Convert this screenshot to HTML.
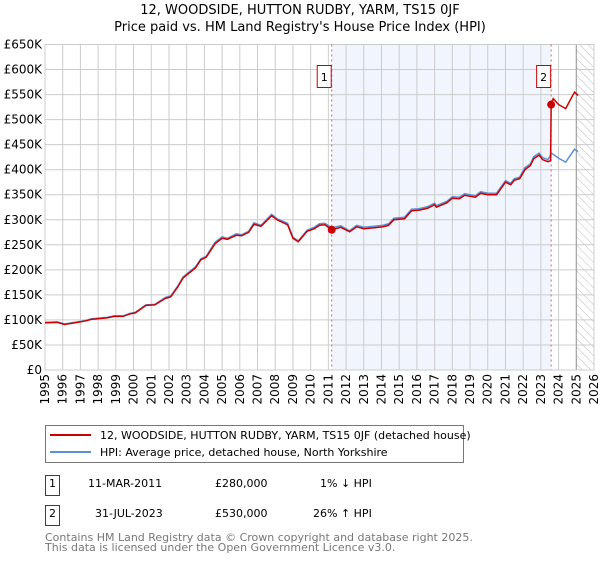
<!DOCTYPE html>
<html><head><meta charset="utf-8"><style>
body{margin:0;background:#fff;font-family:"Liberation Sans","DejaVu Sans",sans-serif}
svg text{font-family:"DejaVu Sans","Liberation Sans",sans-serif}
</style></head><body>
<svg id="c" width="600" height="560" viewBox="0 0 600 560">
<defs><pattern id="hatch" width="6" height="6" patternUnits="userSpaceOnUse" patternTransform="rotate(-45)"><line x1="0" y1="0" x2="0" y2="6" stroke="#bbb" stroke-width="1"/></pattern></defs>
<text x="300" y="14" text-anchor="middle" font-size="13">12, WOODSIDE, HUTTON RUDBY, YARM, TS15 0JF</text>
<text x="300" y="31" text-anchor="middle" font-size="13">Price paid vs. HM Land Registry's House Price Index (HPI)</text>
<g id="plot"></g>
<g>
<rect x="45.5" y="425.5" width="418" height="37" fill="#fff" stroke="#777"/>
<line x1="50" y1="435" x2="91" y2="435" stroke="#cc0000" stroke-width="2"/>
<text x="100" y="439" font-size="11">12, WOODSIDE, HUTTON RUDBY, YARM, TS15 0JF (detached house)</text>
<line x1="50" y1="452" x2="91" y2="452" stroke="#5b8fd6" stroke-width="2"/>
<text x="100" y="456" font-size="11">HPI: Average price, detached house, North Yorkshire</text>
</g>
<g font-size="11">
<rect x="45.5" y="475.5" width="14" height="20" fill="none" stroke="#cc0000"/>
<text x="52.5" y="487" text-anchor="middle">1</text>
<text x="88" y="487">11-MAR-2011</text><text x="215" y="487">£280,000</text><text x="320" y="487">1% ↓ HPI</text>
<rect x="45.5" y="505.5" width="14" height="20" fill="none" stroke="#cc0000"/>
<text x="52.5" y="517" text-anchor="middle">2</text>
<text x="95" y="517">31-JUL-2023</text><text x="215" y="517">£530,000</text><text x="313" y="517">26% ↑ HPI</text>
</g>
<text x="45" y="541" font-size="11" fill="#777">Contains HM Land Registry data © Crown copyright and database right 2025.</text>
<text x="45" y="551" font-size="11" fill="#777">This data is licensed under the Open Government Licence v3.0.</text>
</svg>
<script>
const hpiYears=[1995.0,1995.7,1996.1,1997.0,1997.4,1997.6,1998.5,1998.9,1999.4,1999.8,2000.1,2000.7,2001.2,2001.8,2002.1,2002.5,2002.8,2003.5,2003.8,2004.1,2004.6,2005.0,2005.3,2005.8,2006.1,2006.5,2006.8,2007.2,2007.8,2008.1,2008.7,2009.0,2009.3,2009.8,2010.2,2010.5,2010.8,2011.2,2011.7,2012.2,2012.6,2013.0,2013.6,2014.1,2014.4,2014.7,2015.3,2015.7,2016.1,2016.6,2017.0,2017.1,2017.7,2018.0,2018.4,2018.7,2019.3,2019.6,2020.0,2020.5,2021.0,2021.3,2021.5,2021.8,2022.1,2022.4,2022.6,2022.9,2023.1,2023.4,2023.6,2024.0,2024.4,2024.9,2025.1];
const hpiValues=[95,96,92,97,100,102,105,108,108,113,115,130,131,145,148,168,186,206,222,227,255,266,263,272,270,277,294,289,311,302,293,265,258,279,285,292,293,284,288,278,289,285,287,289,292,303,305,321,322,326,333,328,337,346,345,352,348,356,353,353,378,373,382,385,404,411,426,433,424,420,433,423,415,441,436];
const priceYears=[1995.0,1995.7,1996.1,1997.0,1997.4,1997.6,1998.5,1998.9,1999.4,1999.8,2000.1,2000.7,2001.2,2001.8,2002.1,2002.5,2002.8,2003.5,2003.8,2004.1,2004.6,2005.0,2005.3,2005.8,2006.1,2006.5,2006.8,2007.2,2007.8,2008.1,2008.7,2009.0,2009.3,2009.8,2010.2,2010.5,2010.8,2011.2,2011.7,2012.2,2012.6,2013.0,2013.6,2014.1,2014.4,2014.7,2015.3,2015.7,2016.1,2016.6,2017.0,2017.1,2017.7,2018.0,2018.4,2018.7,2019.3,2019.6,2020.0,2020.5,2021.0,2021.3,2021.5,2021.8,2022.1,2022.4,2022.6,2022.9,2023.1,2023.4,2023.55,2023.58,2023.7,2024.0,2024.4,2024.9,2025.1];
const priceValues=[94,95,91,96,99,101,104,107,107,112,114,129,130,143,146,166,184,204,220,225,252,263,261,269,268,275,291,287,308,300,290,263,256,277,282,289,290,280,285,276,286,282,284,286,289,300,302,318,319,323,330,325,334,343,342,349,345,353,350,350,375,370,379,382,400,408,422,429,420,416,418,530,542,530,522,555,548];
const sales=[{year:2011.19,value:280,label:"1"},{year:2023.58,value:530,label:"2"}];
const yTicks=[0,50,100,150,200,250,300,350,400,450,500,550,600,650];
const xTicks=[];for(let y=1995;y<=2026;y++)xTicks.push(y);
const L=45,R=594,T=44.5,B=370,X0=1995,X1=2026,YMAX=650;
const x=v=>L+(v-X0)/(X1-X0)*(R-L);
const y=v=>B-v/YMAX*(B-T);
const NS="http://www.w3.org/2000/svg";
const g=document.getElementById('plot');
function mk(t,a,p){const e=document.createElementNS(NS,t);for(const k in a)e.setAttribute(k,a[k]);(p||g).appendChild(e);return e;}
mk('rect',{x:x(sales[0].year),y:T,width:x(sales[1].year)-x(sales[0].year),height:B-T,fill:'#eef3fc',opacity:0.8});
mk('rect',{x:x(2025),y:T,width:R-x(2025),height:B-T,fill:'url(#hatch)'});
for(const v of yTicks){
 mk('line',{x1:L,x2:R,y1:y(v),y2:y(v),stroke:'#ccc','stroke-width':1});
 const t=mk('text',{x:L-3,y:y(v)+4,'text-anchor':'end','font-size':12});t.textContent=v===0?'£0':'£'+v+'K';
 
 
}
for(const v of xTicks){
 mk('line',{x1:x(v),x2:x(v),y1:T,y2:B,stroke:'#ccc','stroke-width':1});
 const t=mk('text',{transform:`translate(${x(v)+4},${B+4}) rotate(-90)`,'text-anchor':'end','font-size':12});t.textContent=v;
 
 
}
mk('line',{x1:x(2025),x2:x(2025),y1:T,y2:B,stroke:'#999'});
mk('rect',{x:L,y:T,width:R-L,height:B-T,fill:'none',stroke:'#ccc'});
for(const s of sales){
 const l=mk('line',{x1:x(s.year),x2:x(s.year),y1:T,y2:B,stroke:'#e06060','stroke-dasharray':'2,3','stroke-width':1});
 
 
}
const hp=mk('polyline',{points:hpiYears.map((v,i)=>x(v)+','+y(hpiValues[i])).join(' '),fill:'none',stroke:'#5b8fd6','stroke-width':1.5});


const pp=mk('polyline',{points:priceYears.map((v,i)=>x(v)+','+y(priceValues[i])).join(' '),fill:'none',stroke:'#cc0000','stroke-width':1.5});


for(const s of sales){
 const d=mk('circle',{cx:x(s.year),cy:y(s.value),r:4,fill:'#cc0000'});
 
 
 const bx=x(s.year)-14;
 mk('rect',{x:bx-0.5,y:65.5,width:14,height:22,fill:'#fff',stroke:'#cc0000'});
 const t=mk('text',{x:bx+6.5,y:81,'text-anchor':'middle','font-size':11});t.textContent=s.label;
 
 
}
</script>
</body></html>
